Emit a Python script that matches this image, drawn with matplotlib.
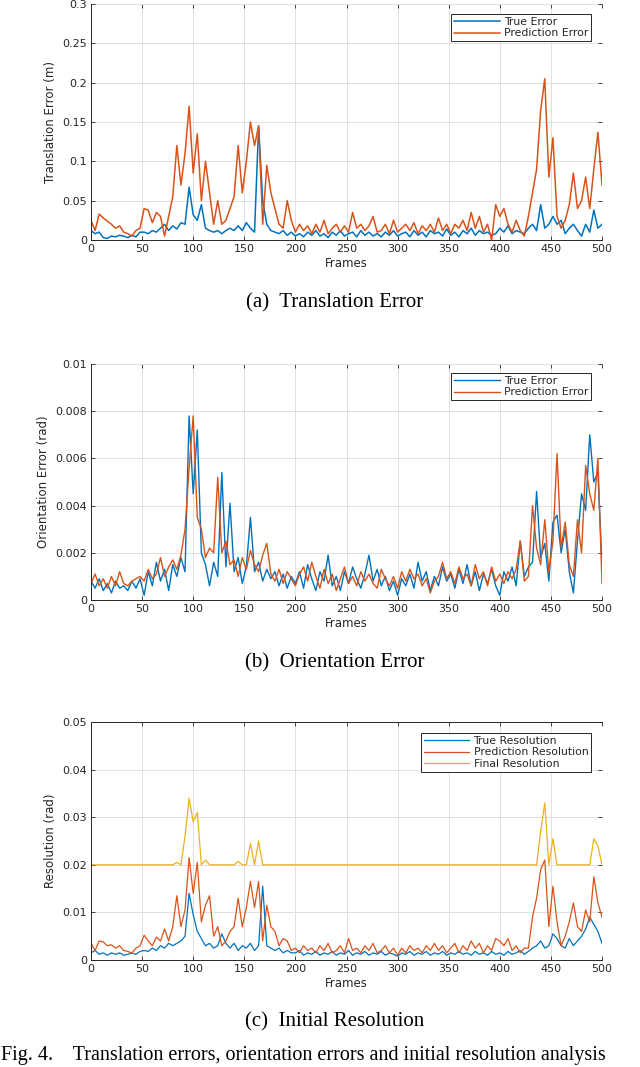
import numpy as np
import matplotlib.pyplot as plt
from matplotlib.ticker import FormatStrFormatter

# frames sampled every 4 frames (0..500)
frames = np.arange(0, 501, 4)

# (a) translation error (m)
trans_true = [0.012, 0.008, 0.01, 0.003, 0.002, 0.005, 0.004, 0.006, 0.005, 0.003,
              0.006, 0.004, 0.01, 0.01, 0.008, 0.012, 0.01, 0.015, 0.02, 0.012,
              0.018, 0.014, 0.022, 0.02, 0.067, 0.032, 0.025, 0.045, 0.015, 0.012,
              0.01, 0.012, 0.008, 0.012, 0.015, 0.012, 0.018, 0.012, 0.022, 0.015,
              0.01, 0.145, 0.05, 0.02, 0.012, 0.01, 0.008, 0.012, 0.006, 0.01,
              0.005, 0.008, 0.004, 0.01, 0.006, 0.012, 0.005, 0.008, 0.003, 0.01,
              0.006, 0.012, 0.005, 0.008, 0.01, 0.004, 0.012, 0.006, 0.01, 0.005,
              0.008, 0.004, 0.01, 0.006, 0.012, 0.005, 0.008, 0.01, 0.004, 0.012,
              0.006, 0.01, 0.004, 0.012, 0.008, 0.01, 0.005, 0.014, 0.006, 0.01,
              0.004, 0.012, 0.008, 0.015, 0.006, 0.012, 0.008, 0.01, 0.006, 0.008,
              0.015, 0.01, 0.018, 0.008, 0.012, 0.01, 0.008, 0.015, 0.02, 0.012,
              0.045, 0.015, 0.02, 0.03, 0.02, 0.025, 0.008, 0.015, 0.02, 0.012,
              0.005, 0.02, 0.01, 0.038, 0.015, 0.02]
trans_pred = [0.025, 0.012, 0.033, 0.028, 0.024, 0.02, 0.015, 0.018, 0.01, 0.008,
              0.005, 0.012, 0.015, 0.04, 0.038, 0.022, 0.035, 0.03, 0.005, 0.03,
              0.055, 0.12, 0.07, 0.11, 0.17, 0.085, 0.135, 0.05, 0.1, 0.06,
              0.02, 0.05, 0.02, 0.025, 0.04, 0.055, 0.12, 0.06, 0.1, 0.15,
              0.12, 0.145, 0.02, 0.095, 0.06, 0.04, 0.02, 0.015, 0.05, 0.025,
              0.01, 0.02, 0.012, 0.018, 0.008, 0.02, 0.01, 0.025, 0.008, 0.015,
              0.02, 0.01, 0.018, 0.01, 0.035, 0.015, 0.02, 0.012, 0.018, 0.03,
              0.01, 0.012, 0.02, 0.008, 0.025, 0.01, 0.015, 0.02, 0.012, 0.022,
              0.008, 0.018, 0.012, 0.02, 0.01, 0.028, 0.012, 0.02, 0.008, 0.02,
              0.015, 0.025, 0.012, 0.035, 0.015, 0.03, 0.01, 0.02, 0.0, 0.045,
              0.03, 0.04, 0.02, 0.01, 0.025, 0.012, 0.005, 0.03, 0.06, 0.09,
              0.165, 0.205, 0.08, 0.13, 0.03, 0.015, 0.025, 0.045, 0.085, 0.04,
              0.05, 0.08, 0.04, 0.09, 0.137, 0.07]

# (b) orientation error (rad)
orient_true = [0.0008, 0.0005, 0.0009, 0.0004, 0.0007, 0.0003, 0.0008, 0.0005, 0.0006, 0.0004,
               0.0008, 0.0005, 0.0009, 0.0002, 0.0012, 0.0006, 0.0016, 0.0008, 0.0013, 0.0004,
               0.0015, 0.0010, 0.0018, 0.0012, 0.0078, 0.0045, 0.0072, 0.0020, 0.0015, 0.0006,
               0.0016, 0.0010, 0.0054, 0.0014, 0.0041, 0.0012, 0.0018, 0.0007, 0.0014, 0.0035,
               0.0012, 0.0016, 0.0008, 0.0013, 0.0009, 0.0012, 0.0006, 0.0011, 0.0005, 0.0010,
               0.0007, 0.0012, 0.0005, 0.0015, 0.0009, 0.0004, 0.0012, 0.0008, 0.0019, 0.0006,
               0.0010, 0.0004, 0.0012, 0.0007, 0.0014, 0.0009, 0.0005, 0.0011, 0.0019, 0.0008,
               0.0013, 0.0006, 0.0010, 0.0004, 0.0008, 0.0002, 0.0009, 0.0006, 0.0011, 0.0005,
               0.0016, 0.0008, 0.0012, 0.0004, 0.0010, 0.0006, 0.0014, 0.0008, 0.0011, 0.0005,
               0.0013, 0.0007, 0.0015, 0.0006, 0.0012, 0.0004, 0.0011, 0.0007, 0.0013, 0.0006,
               0.0002, 0.0012, 0.0008, 0.0014, 0.0006, 0.0025, 0.0010, 0.0014, 0.0016, 0.0046,
               0.0018, 0.0024, 0.0008, 0.0033, 0.0036, 0.0020, 0.0030, 0.0012, 0.0003, 0.0025,
               0.0045, 0.0038, 0.0070, 0.0050, 0.0054, 0.0015]
orient_pred = [0.0007, 0.0011, 0.0006, 0.0009, 0.0005, 0.0010, 0.0006, 0.0012, 0.0007, 0.0006,
               0.0008, 0.0009, 0.0010, 0.0008, 0.0013, 0.0009, 0.0011, 0.0018, 0.0010, 0.0014,
               0.0017, 0.0013, 0.0019, 0.0030, 0.0056, 0.0078, 0.0035, 0.0030, 0.0018, 0.0022,
               0.0020, 0.0052, 0.0020, 0.0025, 0.0015, 0.0017, 0.0010, 0.0018, 0.0013, 0.0021,
               0.0015, 0.0012, 0.0019, 0.0024, 0.0011, 0.0008, 0.0013, 0.0007, 0.0012, 0.0009,
               0.0006, 0.0011, 0.0014, 0.0008, 0.0016, 0.0010, 0.0005, 0.0013, 0.0007, 0.0011,
               0.0004, 0.0009, 0.0014, 0.0007, 0.0010, 0.0006, 0.0012, 0.0008, 0.0011, 0.0007,
               0.0005, 0.0013, 0.0009, 0.0006, 0.0010, 0.0005, 0.0012, 0.0008, 0.0013, 0.0009,
               0.0011, 0.0006, 0.0009, 0.0003, 0.0008, 0.0010, 0.0016, 0.0009, 0.0012, 0.0007,
               0.0014, 0.0009, 0.0011, 0.0006, 0.0015, 0.0009, 0.0012, 0.0006, 0.0014, 0.0008,
               0.0011, 0.0007, 0.0012, 0.0009, 0.0013, 0.0025, 0.0008, 0.0010, 0.0040, 0.0022,
               0.0015, 0.0034, 0.0012, 0.0025, 0.0062, 0.0022, 0.0033, 0.0015, 0.0010, 0.0034,
               0.0020, 0.0057, 0.0045, 0.0038, 0.0060, 0.0007]

# (c) initial resolution (rad)
res_true = [0.0015, 0.002, 0.0012, 0.0015, 0.001, 0.0015, 0.0012, 0.0015, 0.001, 0.0012,
            0.0015, 0.0012, 0.0018, 0.002, 0.0018, 0.0025, 0.002, 0.003, 0.0025, 0.0035,
            0.003, 0.0035, 0.004, 0.005, 0.014, 0.0095, 0.006, 0.0045, 0.003, 0.0035,
            0.0025, 0.003, 0.0055, 0.0035, 0.0025, 0.0035, 0.002, 0.003, 0.0025, 0.0035,
            0.002, 0.003, 0.0155, 0.003, 0.0025, 0.002, 0.0025, 0.0015, 0.002, 0.0015,
            0.0015, 0.002, 0.001, 0.0015, 0.0012, 0.0018, 0.001, 0.0015, 0.0012, 0.0018,
            0.001, 0.0015, 0.0012, 0.002, 0.001, 0.0015, 0.0012, 0.0018, 0.001, 0.0015,
            0.0012, 0.0018, 0.001, 0.0015, 0.0012, 0.0008, 0.0015, 0.0012, 0.0018, 0.001,
            0.0015, 0.0012, 0.0018, 0.001, 0.0015, 0.0012, 0.0018, 0.001, 0.0015, 0.0012,
            0.0018, 0.0012, 0.0015, 0.001, 0.0018, 0.0012, 0.0015, 0.001, 0.0018, 0.0012,
            0.0015, 0.001, 0.0018, 0.0012, 0.0015, 0.002, 0.0012, 0.0018, 0.0025, 0.003,
            0.004, 0.0025, 0.003, 0.0055, 0.0045, 0.003, 0.0025, 0.0045, 0.003, 0.004,
            0.005, 0.0065, 0.009, 0.0075, 0.006, 0.0035]
res_pred = [0.0035, 0.002, 0.004, 0.0038, 0.003, 0.0032, 0.0025, 0.003, 0.002, 0.0018,
            0.0015, 0.0025, 0.003, 0.0052, 0.004, 0.003, 0.0048, 0.004, 0.0065, 0.004,
            0.007, 0.0135, 0.007, 0.0105, 0.0215, 0.014, 0.0205, 0.008, 0.0115, 0.0135,
            0.005, 0.007, 0.003, 0.004, 0.006, 0.007, 0.013, 0.007, 0.011, 0.0165,
            0.011, 0.0165, 0.004, 0.0115, 0.007, 0.006, 0.003, 0.0045, 0.004, 0.002,
            0.0025, 0.0015, 0.003, 0.002, 0.0025, 0.0015, 0.003, 0.002, 0.0035, 0.0015,
            0.002, 0.003, 0.0015, 0.0045, 0.002, 0.0025, 0.0015, 0.003, 0.002, 0.0035,
            0.0015, 0.002, 0.003, 0.0015, 0.0025, 0.001, 0.0025, 0.0015, 0.003, 0.002,
            0.0025, 0.0015, 0.003, 0.002, 0.0035, 0.002, 0.003, 0.0015, 0.0025, 0.0035,
            0.0015, 0.003, 0.002, 0.004, 0.0025, 0.0035, 0.0015, 0.003, 0.002, 0.0045,
            0.004, 0.003, 0.0045, 0.002, 0.003, 0.0015, 0.0025, 0.0025, 0.009, 0.013,
            0.019, 0.021, 0.007, 0.0155, 0.008, 0.003, 0.005, 0.008, 0.012, 0.007,
            0.006, 0.0105, 0.008, 0.0175, 0.012, 0.009]
res_final = ([0.02] * 20 +
             [0.02, 0.0205, 0.02, 0.026, 0.034, 0.029, 0.031, 0.02, 0.021, 0.02,
              0.02, 0.02, 0.02, 0.02, 0.02, 0.02, 0.0207, 0.02, 0.02, 0.0245,
              0.02, 0.025, 0.02, 0.02, 0.02, 0.02, 0.02, 0.02, 0.02, 0.02] +
             [0.02] * 60 +
             [0.027, 0.033, 0.02, 0.0255, 0.02, 0.02, 0.02, 0.02, 0.02, 0.02,
              0.02, 0.02, 0.02, 0.0255, 0.024, 0.02])

blue = '#0072BD'
orange = '#D95319'
yellow = '#EDB120'
dark = '#262626'

plt.rcParams['font.family'] = 'DejaVu Sans'
fig = plt.figure(figsize=(6.4, 10.67), dpi=100)
W, H = 640, 1067


def make_axes(top_px, bottom_px):
    return fig.add_axes([91 / W, 1 - bottom_px / H, 511 / W, (bottom_px - top_px) / H])


def style(ax, ymax, ystep, ylabel, top_line=False):
    ax.set_xlim(0, 500)
    ax.set_ylim(0, ymax)
    ax.set_xticks(np.arange(0, 501, 50))
    ax.set_yticks(np.arange(0, ymax + ystep / 2, ystep))
    ax.yaxis.set_major_formatter(FormatStrFormatter('%g'))
    ax.grid(True, color='#e0e0e0', lw=0.7)
    ax.set_axisbelow(True)
    ax.tick_params(direction='in', length=3, width=0.6, colors=dark,
                   labelsize=8, top=True, right=True, pad=3)
    for s in ['left', 'bottom']:
        ax.spines[s].set_color(dark)
        ax.spines[s].set_linewidth(0.7)
    ax.spines['right'].set_visible(False)
    ax.spines['top'].set_visible(top_line)
    ax.spines['top'].set_color(dark)
    ax.spines['top'].set_linewidth(0.7)
    ax.set_xlabel('Frames', fontsize=8.5, color=dark, labelpad=2)
    ax.set_ylabel(ylabel, fontsize=8.5, color=dark, labelpad=4)


def legend(ax, top_gap):
    lg = ax.legend(loc='upper right', bbox_to_anchor=(1 - 11 / 511, 1 - top_gap),
                   fontsize=7.8, handlelength=4.2, borderpad=0.25, labelspacing=0.15,
                   handletextpad=0.4, borderaxespad=0, fancybox=False, framealpha=1)
    lg.get_frame().set_edgecolor(dark)
    lg.get_frame().set_linewidth(0.7)
    for t in lg.get_texts():
        t.set_color(dark)


# (a)
ax1 = make_axes(4, 240)
ax1.plot(frames, trans_true, color=blue, lw=1.1, label='True Error')
ax1.plot(frames, trans_pred, color=orange, lw=1.1, label='Prediction Error')
style(ax1, 0.3, 0.05, 'Translation Error (m)')
legend(ax1, 10 / 236)

# (b)
ax2 = make_axes(364, 600)
ax2.plot(frames, orient_true, color=blue, lw=1.0, label='True Error')
ax2.plot(frames, orient_pred, color=orange, lw=1.0, label='Prediction Error')
style(ax2, 0.01, 0.002, 'Orientation Error (rad)')
legend(ax2, 9 / 236)

# (c)
ax3 = make_axes(722, 960)
ax3.plot(frames, res_true, color=blue, lw=0.9, label='True Resolution')
ax3.plot(frames, res_pred, color=orange, lw=0.9, label='Prediction Resolution')
ax3.plot(frames, res_final, color=yellow, lw=0.9, label='Final Resolution')
style(ax3, 0.05, 0.01, 'Resolution (rad)', top_line=True)
legend(ax3, 11 / 238)

serif = 'Liberation Serif'
fig.text(335 / W, 1 - 303 / H, '(a)  Translation Error', ha='center', va='center',
         family=serif, fontsize=15)
fig.text(335 / W, 1 - 663 / H, '(b)  Orientation Error', ha='center', va='center',
         family=serif, fontsize=15)
fig.text(335 / W, 1 - 1022 / H, '(c)  Initial Resolution', ha='center', va='center',
         family=serif, fontsize=15)
fig.text(1 / W, 2 / H, 'Fig. 4.    Translation errors, orientation errors and initial resolution analysis',
         ha='left', va='bottom', family=serif, fontsize=14.5)

fig.savefig('out.png', dpi=100)
